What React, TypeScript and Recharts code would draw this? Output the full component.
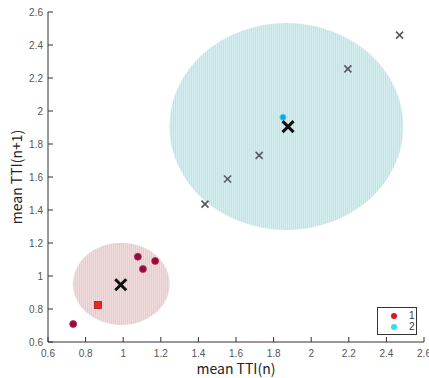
import React from 'react'
import {
  ScatterChart,
  Scatter,
  XAxis,
  YAxis,
  ReferenceArea,
} from 'recharts'

// axis ticks
const xTicks = [0.6, 0.8, 1, 1.2, 1.4, 1.6, 1.8, 2, 2.2, 2.4, 2.6]
const yTicks = [0.6, 0.8, 1, 1.2, 1.4, 1.6, 1.8, 2, 2.2, 2.4, 2.6]

// cluster 1 members
const cluster1Points = [
  { x: 0.734, y: 0.709 },
  { x: 1.078, y: 1.117 },
  { x: 1.105, y: 1.042 },
  { x: 1.17, y: 1.091 },
]
const cluster1Square = [{ x: 0.866, y: 0.824 }]

// cluster 2 members
const cluster2Points = [
  { x: 1.435, y: 1.436 },
  { x: 1.555, y: 1.588 },
  { x: 1.723, y: 1.731 },
  { x: 2.195, y: 2.255 },
  { x: 2.47, y: 2.46 },
]
const cluster2Dot = [{ x: 1.85, y: 1.962 }]

// centroids
const centroids = [
  { x: 0.987, y: 0.947 },
  { x: 1.877, y: 1.905 },
]

// cluster regions: center and radii
const regions = [
  { id: 'pink', cx: 0.99, cy: 0.952, rx: 0.257, ry: 0.25 },
  { id: 'cyan', cx: 1.868, cy: 1.906, rx: 0.622, ry: 0.627 },
]

const legendItems = [
  { label: '1', color: '#e2141c' },
  { label: '2', color: '#2fe3ea' },
]

const tickFont = "'Liberation Sans Narrow', 'Liberation Sans', Arial, sans-serif"
const labelFont = "'Noto Sans CJK JP', 'Noto Sans', sans-serif"
const fmt = (v: number) => String(Number(v.toFixed(1)))

const BottomTick = (props: any) => {
  const { x, y, payload } = props
  return (
    <g>
      <line x1={x} x2={x} y1={y} y2={y - 5} stroke="#333" />
      <text x={x} y={y + 15} textAnchor="middle" fontSize={10} fill="#555" fontFamily={tickFont}>
        {fmt(payload.value)}
      </text>
    </g>
  )
}

const TopTick = (props: any) => {
  const { x, y } = props
  return <line x1={x} x2={x} y1={y} y2={y + 5} stroke="#333" />
}

const LeftTick = (props: any) => {
  const { x, y, payload } = props
  return (
    <g>
      <line x1={x} x2={x + 5} y1={y} y2={y} stroke="#333" />
      <text x={x - 5} y={y + 3.5} textAnchor="end" fontSize={10} fill="#555" fontFamily={tickFont}>
        {fmt(payload.value)}
      </text>
    </g>
  )
}

const RightTick = (props: any) => {
  const { x, y } = props
  return <line x1={x} x2={x - 5} y1={y} y2={y} stroke="#333" />
}

const Dot = (props: any) => (
  <circle cx={props.cx} cy={props.cy} r={3.5} fill="#8c0c46" stroke="#c42a3c" strokeWidth={0.8} />
)
const Square = (props: any) => (
  <rect x={props.cx - 3.5} y={props.cy - 3.5} width={7} height={7} fill="#e82a1e" stroke="#a81818" strokeWidth={0.8} />
)
const CyanDot = (props: any) => (
  <circle cx={props.cx} cy={props.cy} r={3} fill="#1b9fe0" stroke="#35d6ee" strokeWidth={1} />
)
const Cross = (size: number, width: number, color: string) => (props: any) => {
  const { cx, cy } = props
  return (
    <g stroke={color} strokeWidth={width} strokeLinecap="butt">
      <line x1={cx - size} y1={cy - size} x2={cx + size} y2={cy + size} />
      <line x1={cx - size} y1={cy + size} x2={cx + size} y2={cy - size} />
    </g>
  )
}

const EllipseShape = (fill: string) => (props: any) => {
  const { x, y, width, height } = props
  return (
    <ellipse cx={x + width / 2} cy={y + height / 2} rx={width / 2} ry={height / 2} fill={fill} />
  )
}

export default function App() {
  return (
    <div style={{ position: 'absolute', left: 0, top: 0, width: 429, height: 378, background: '#fff' }}>
      <ScatterChart width={429} height={378} margin={{ top: 12, right: 5, left: 0, bottom: 0 }}>
        <defs>
          <pattern id="pinkFill" width="2" height="2" patternUnits="userSpaceOnUse">
            <rect width="2" height="2" fill="#e8cacd" />
            <rect width="1" height="2" fill="#f1dcde" />
          </pattern>
          <pattern id="cyanFill" width="2" height="2" patternUnits="userSpaceOnUse">
            <rect width="2" height="2" fill="#bfe3e6" />
            <rect width="1" height="2" fill="#d5eef0" />
          </pattern>
        </defs>
        <XAxis
          type="number"
          dataKey="x"
          domain={[0.6, 2.6]}
          ticks={xTicks}
          height={36}
          tickSize={0}
          tickMargin={0}
          tickLine={false}
          tick={BottomTick}
          stroke="#333"
          interval={0}
          allowDataOverflow
          label={{ value: 'mean TTI(n)', position: 'insideBottom', offset: 0, dy: -4, fontSize: 14, fill: '#222', fontFamily: labelFont }}
        />
        <XAxis
          xAxisId="top"
          orientation="top"
          type="number"
          dataKey="x"
          domain={[0.6, 2.6]}
          ticks={xTicks}
          height={0}
          tickSize={0}
          tickMargin={0}
          tickLine={false}
          tick={TopTick}
          stroke="#333"
          interval={0}
        />
        <YAxis
          type="number"
          dataKey="y"
          domain={[0.6, 2.6]}
          ticks={yTicks}
          width={48}
          tickSize={0}
          tickMargin={0}
          tickLine={false}
          tick={LeftTick}
          stroke="#333"
          interval={0}
          allowDataOverflow
          label={{ value: 'mean TTI(n+1)', angle: -90, position: 'insideLeft', dx: 12, style: { textAnchor: 'middle' }, fontSize: 14, fill: '#222', fontFamily: labelFont }}
        />
        <YAxis
          yAxisId="right"
          orientation="right"
          type="number"
          dataKey="y"
          domain={[0.6, 2.6]}
          ticks={yTicks}
          width={0}
          tickSize={0}
          tickMargin={0}
          tickLine={false}
          tick={RightTick}
          stroke="#333"
          interval={0}
        />
        {regions.map(r => (
          <ReferenceArea
            key={r.id}
            x1={r.cx - r.rx}
            x2={r.cx + r.rx}
            y1={r.cy - r.ry}
            y2={r.cy + r.ry}
            shape={EllipseShape(`url(#${r.id}Fill)`)}
          />
        ))}
        <Scatter data={cluster2Points} shape={Cross(3.5, 1.6, '#555a60')} isAnimationActive={false} />
        <Scatter data={cluster2Dot} shape={CyanDot} isAnimationActive={false} />
        <Scatter data={cluster1Points} shape={Dot} isAnimationActive={false} />
        <Scatter data={cluster1Square} shape={Square} isAnimationActive={false} />
        <Scatter data={centroids} shape={Cross(5.5, 3, '#111')} isAnimationActive={false} />
      </ScatterChart>
      <div
        style={{
          position: 'absolute',
          left: 377,
          top: 307,
          width: 40,
          height: 28,
          border: '1px solid #333',
          background: '#fff',
          fontFamily: tickFont,
          fontSize: 10,
          color: '#333',
          boxSizing: 'border-box',
          padding: '2px 0 0 0',
        }}
      >
        {legendItems.map(item => (
          <div key={item.label} style={{ display: 'flex', alignItems: 'center', height: 11 }}>
            <span
              style={{
                display: 'inline-block',
                width: 6,
                height: 6,
                borderRadius: 3,
                background: item.color,
                marginLeft: 13,
              }}
            />
            <span style={{ marginLeft: 12 }}>{item.label}</span>
          </div>
        ))}
      </div>
    </div>
  )
}
